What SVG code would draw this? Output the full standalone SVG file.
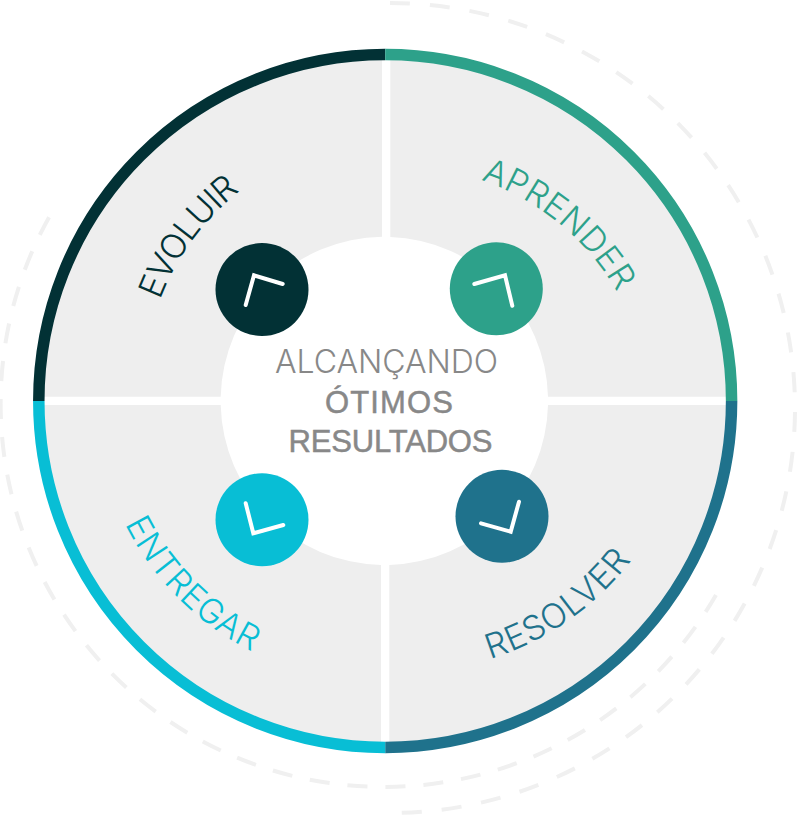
<svg xmlns="http://www.w3.org/2000/svg" width="798" height="815" viewBox="0 0 798 815">
<style>
.q{fill:#eee}
.r{fill:none;stroke-width:11.5}
.d{fill:none;stroke:#f0f0f0;stroke-width:4}
.t{fill:none;stroke:#fff;stroke-width:4;stroke-linecap:round;stroke-linejoin:miter}
.l{font-family:Inter,"Liberation Sans",sans-serif;font-size:34px;font-weight:300}
.c{font-family:Inter,"Liberation Sans",sans-serif;font-size:32px;fill:#888;text-anchor:middle;font-weight:300}
.b{font-family:"Liberation Sans",Arial,sans-serif;font-size:31px;fill:#888;stroke:#888;stroke-width:.5;text-anchor:middle}
</style>
<defs>
<path id="pe" d="M160 300A250 250 0 0 1 240 191"/>
<path id="pa" d="M481 180A250 250 0 0 1 617 292"/>
<path id="pn" d="M125 524A285 285 0 0 0 253 652"/>
<path id="pr" d="M490 659A285 285 0 0 0 633 558"/>
</defs>
<rect width="798" height="815" fill="#fff"/>
<g id="connectors">
<path class="d" stroke-dasharray="20 20" d="M390 3A405 405 0 0 1 390 813"/>
<path class="d" stroke-dasharray="20 18" d="M716 595A383 383 0 1 1 52 212"/>
</g>
<g id="evolver">
<path class="q" d="M43 396.7A342 342 0 0 1 382 59V236.7A164 164 0 0 0 220.7 396.7Z"/>
<path class="r" stroke="#023135" d="M38.8 401A346.4 346.4 0 0 1 385.2 54.6"/>
<circle cx="262" cy="289.5" r="46.5" fill="#023135"/>
<path class="t" d="M245.7 305L254 275.3L282.7 284"/>
<text class="l" fill="#023135"><textPath href="#pe" textLength="137">EVOLUIR</textPath></text>
</g>
<g id="aprender">
<path class="q" d="M390.3 59A342 342 0 0 1 727 396.7H548A164 164 0 0 0 390.3 237Z"/>
<path class="r" stroke="#2da18a" d="M385.2 54.6A346.4 346.4 0 0 1 731.6 401"/>
<circle cx="496.3" cy="288.7" r="46.5" fill="#2da18a"/>
<path class="t" d="M474.3 284L505 275.3L512.3 305.7"/>
<text class="l" fill="#2da18a"><textPath href="#pa" textLength="180">APRENDER</textPath></text>
</g>
<g id="resolver">
<path class="q" d="M389.3 565V743A342 342 0 0 0 727 405H548A164 164 0 0 1 389.3 565Z"/>
<path class="r" stroke="#1f728c" d="M731.6 401A346.4 346.4 0 0 1 385.2 747.4"/>
<circle cx="502" cy="516.3" r="46.5" fill="#1f728c"/>
<path class="t" d="M519 501.7L510.7 531.7L481 523.3"/>
<text class="l" fill="#1f728c"><textPath href="#pr" textLength="175">RESOLVER</textPath></text>
</g>
<g id="entregar">
<path class="q" d="M381 565V743A342 342 0 0 1 43 405H220.7A164 164 0 0 0 381 565Z"/>
<path class="r" stroke="#08bed5" d="M385.2 747.4A346.4 346.4 0 0 1 38.8 401"/>
<circle cx="262" cy="519.7" r="46.5" fill="#08bed5"/>
<path class="t" d="M245.7 503.3L253.3 533.3L283.3 525"/>
<text class="l" fill="#08bed5"><textPath href="#pn" textLength="183">ENTREGAR</textPath></text>
</g>
<g id="center">
<text class="c" x="386.5" y="372.5" textLength="223">ALCANÇANDO</text>
<text class="b" x="389" y="412.5" textLength="128">ÓTIMOS</text>
<text class="b" x="390.5" y="452" textLength="204">RESULTADOS</text>
</g>
</svg>
